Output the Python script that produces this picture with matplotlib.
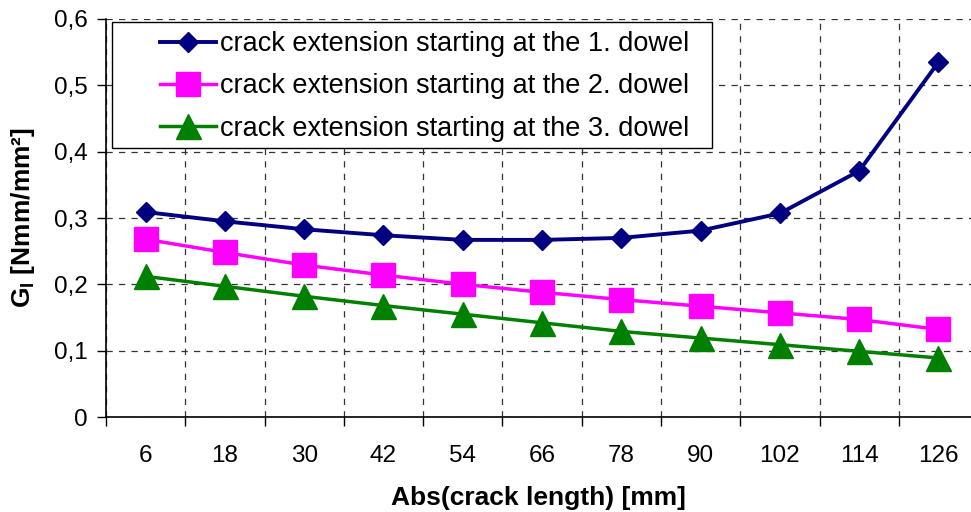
import numpy as np
import matplotlib
matplotlib.use('Agg')
import matplotlib.pyplot as plt
from matplotlib.patches import Rectangle
from matplotlib.ticker import FixedLocator, FuncFormatter

plt.rcParams['font.family'] = ['Liberation Sans', 'DejaVu Sans']

# crack length categories [mm]
crack_len = [6, 18, 30, 42, 54, 66, 78, 90, 102, 114, 126]
# energy release rate G_I [Nmm/mm²]
g_dowel1 = [0.309, 0.295, 0.283, 0.274, 0.267, 0.267, 0.270, 0.281, 0.307, 0.371, 0.535]
g_dowel2 = [0.268, 0.248, 0.229, 0.214, 0.200, 0.188, 0.177, 0.167, 0.157, 0.147, 0.132]
g_dowel3 = [0.212, 0.197, 0.182, 0.168, 0.155, 0.142, 0.129, 0.119, 0.109, 0.099, 0.089]
labels = ['crack extension starting at the 1. dowel',
          'crack extension starting at the 2. dowel',
          'crack extension starting at the 3. dowel']

W, H = 971, 512
fig = plt.figure(figsize=(W / 100, H / 100), dpi=100)
ax = fig.add_axes([106 / W, 95 / H, 1 - 106 / W, 398 / H])

x = np.arange(len(crack_len))
ax.plot(x, g_dowel1, '-', color='#000080', lw=2.8, marker='D', ms=10.5, label=labels[0], zorder=5)
ax.plot(x, g_dowel2, '-', color='#FF00FF', lw=2.5, marker='s', ms=17, label=labels[1], zorder=4)
ax.plot(x, g_dowel3, '-', color='#008000', lw=2.5, marker='^', ms=18, label=labels[2], zorder=3)

ax.set_xlim(-0.5, 10.41)
ax.set_ylim(0, 0.6)

# category labels centred, tick marks on the boundaries
ax.set_xticks(x)
ax.set_xticklabels([str(c) for c in crack_len])
ax.xaxis.set_minor_locator(FixedLocator(np.arange(-0.5, 10.5, 1.0)))
ax.tick_params(axis='x', which='major', length=0, pad=20, labelsize=17.5)
ax.tick_params(axis='x', which='minor', length=6.5, width=1, direction='out')
ax.set_yticks(np.arange(0, 0.61, 0.1))
ax.yaxis.set_major_formatter(FuncFormatter(
    lambda v, p: '0' if abs(v) < 1e-9 else f'{v:.1f}'.replace('.', ',')))
ax.tick_params(axis='y', length=6.5, width=1, direction='out', labelsize=17.5, pad=7)

ax.grid(True, which='minor', axis='x', color='#333333', ls=(0, (5, 5)), lw=0.9)
ax.grid(True, which='major', axis='y', color='#333333', ls=(0, (5, 5)), lw=0.9)
ax.set_axisbelow(True)

for s in ['top', 'right']:
    ax.spines[s].set_visible(False)
ax.spines['left'].set_linewidth(1.2)
ax.spines['bottom'].set_linewidth(1.2)

ax.set_xlabel('Abs(crack length) [mm]', fontsize=19, fontweight='bold', labelpad=14)
ax.set_ylabel(r'G$_\mathregular{I}$ [Nmm/mm²]', fontsize=19, fontweight='bold', labelpad=12)

# legend entries without frame; the box is drawn separately behind them
leg = ax.legend(loc='upper left', bbox_to_anchor=(54 / (W - 106), 1 - 12 / 398), fontsize=19.5,
                frameon=False, handlelength=2.05, handletextpad=0.15,
                borderpad=0, labelspacing=0.6, borderaxespad=0)
leg.set_zorder(10)
ax.add_patch(Rectangle((112 / W, (H - 148) / H), 600 / W, 126 / H,
                       transform=fig.transFigure, facecolor='white',
                       edgecolor='black', lw=1.0, zorder=8, clip_on=False))

plt.savefig('out.png', dpi=100)
